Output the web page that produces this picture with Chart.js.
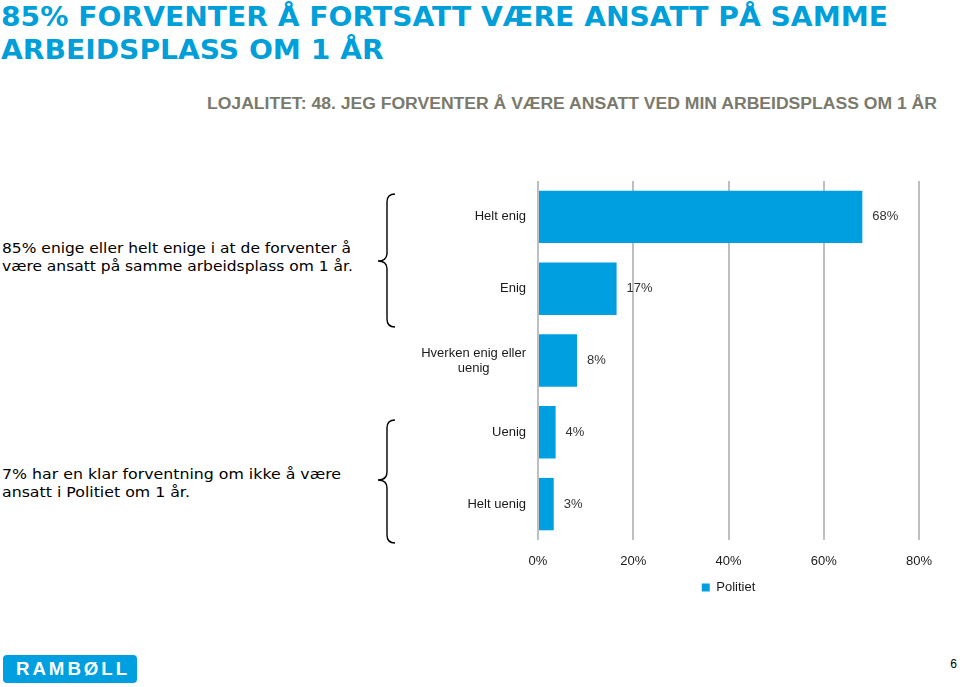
<!DOCTYPE html>
<html>
<head>
<meta charset="utf-8">
<script src="https://cdn.jsdelivr.net/npm/chart.js@4/dist/chart.umd.min.js"></script>
<style>
  html, body { margin:0; padding:0; background:#fff; }
  body { width:960px; height:687px; position:relative; overflow:hidden; }
  .t { position:absolute; white-space:nowrap; line-height:1; }
  #title { left:1px; top:0; font-family:"DejaVu Sans", Verdana, sans-serif; font-weight:bold; font-size:27px; color:#009FDA; transform-origin:0 0; }
  #title div { height:33px; line-height:33px; }
  #sub { right:23px; top:96px; font-family:"Liberation Sans Narrow","Liberation Sans", Arial, sans-serif; font-weight:bold; font-size:16px; color:#7a7a6c; transform-origin:100% 0; }
  .note { left:2px; font-family:"DejaVu Sans", Verdana, sans-serif; font-size:14.5px; color:#000; transform-origin:0 0; }
  .note div { height:18px; line-height:18px; }
  #logo { position:absolute; left:3px; top:655px; width:134px; height:28px; background:#009FDF; border-radius:4px; }
  #logoTxt { position:absolute; left:13px; top:4px; color:#fff; font-family:"Liberation Sans", Arial, sans-serif; font-weight:bold; font-size:19px; letter-spacing:3px; line-height:20px; transform-origin:0 0; }
  #page { right:3px; top:658px; font-family:"Liberation Sans", Arial, sans-serif; font-size:12px; color:#000; }
  #braces { position:absolute; left:0; top:0; }
  #chartBox { position:absolute; left:0; top:0; width:960px; height:687px; }
</style>
</head>
<body>
<div id="title" class="t" data-fit="887"><div>85% FORVENTER Å FORTSATT VÆRE ANSATT PÅ SAMME</div><div>ARBEIDSPLASS OM 1 ÅR</div></div>
<div id="sub" class="t" data-fit="730">LOJALITET: 48. JEG FORVENTER Å VÆRE ANSATT VED MIN ARBEIDSPLASS OM 1 ÅR</div>
<div class="t note" style="top:239px" data-fit="351"><div>85% enige eller helt enige i at de forventer å</div><div>være ansatt på samme arbeidsplass om 1 år.</div></div>
<div class="t note" style="top:465px" data-fit="339"><div>7% har en klar forventning om ikke å være</div><div>ansatt i Politiet om 1 år.</div></div>
<div id="logo"><div id="logoTxt" class="t" data-fit="114">RAMBØLL</div></div>
<div id="page" class="t">6</div>
<div id="chartBox"><canvas id="c" width="960" height="687"></canvas></div>
<svg id="braces" width="960" height="687">
  <path d="M395,194 Q387,194 387,202 L387,253 Q387,261 378,261 Q387,261 387,269 L387,319 Q387,327 395,327" fill="none" stroke="#000" stroke-width="1.4"/>
  <path d="M395,420 Q387,420 387,428 L387,472 Q387,480 378,480 Q387,480 387,488 L387,535 Q387,543 395,543" fill="none" stroke="#000" stroke-width="1.4"/>
</svg>
<script>
// ---- data ----
const categories = ["Helt enig", "Enig", ["Hverken enig eller", "uenig"], "Uenig", "Helt uenig"];
const seriesName = "Politiet";
const values = [68.1, 16.5, 8.2, 3.7, 3.3];
const tickValues = [0, 20, 40, 60, 80];

// fit text widths
document.querySelectorAll('[data-fit]').forEach(el => {
  const target = parseFloat(el.dataset.fit);
  let w = 0;
  if (el.children.length) { el.querySelectorAll('div').forEach(d => { d.style.display='inline-block'; w = Math.max(w, d.getBoundingClientRect().width); d.style.display='block'; }); }
  else w = el.getBoundingClientRect().width;
  if (w > 0) el.style.transform = 'scaleX(' + (target / w) + ')';
});

Chart.defaults.font.family = '"Liberation Sans", Arial, sans-serif';
Chart.defaults.font.size = 13;
Chart.defaults.color = '#1a1a1a';

const labelPlugin = {
  id: 'labels',
  afterDatasetsDraw(chart) {
    const ctx = chart.ctx;
    const meta = chart.getDatasetMeta(0);
    const yScale = chart.scales.y;
    const area = chart.chartArea;
    ctx.save();
    ctx.font = '13px "Liberation Sans", Arial, sans-serif';
    ctx.textBaseline = 'middle';
    // value labels
    ctx.fillStyle = '#333';
    ctx.textAlign = 'left';
    meta.data.forEach((bar, i) => {
      ctx.fillText(Math.round(values[i]) + '%', bar.x + 10, bar.y);
    });
    // category labels
    ctx.fillStyle = '#1a1a1a';
    const right = area.left - 12;
    categories.forEach((lab, i) => {
      const y = yScale.getPixelForValue(i);
      const lines = Array.isArray(lab) ? lab : [lab];
      let maxW = 0;
      lines.forEach(l => maxW = Math.max(maxW, ctx.measureText(l).width));
      const cx = right - maxW / 2;
      ctx.textAlign = 'center';
      const lh = 15;
      lines.forEach((l, k) => {
        ctx.fillText(l, cx, y + (k - (lines.length - 1) / 2) * lh);
      });
    });
    ctx.restore();
  }
};

new Chart(document.getElementById('c'), {
  type: 'bar',
  data: {
    labels: categories,
    datasets: [{
      label: seriesName,
      data: values,
      backgroundColor: '#009FDF',
      borderWidth: 0,
      barPercentage: 0.73,
      categoryPercentage: 1
    }]
  },
  options: {
    indexAxis: 'y',
    responsive: false,
    animation: false,
    layout: { padding: { left: 538, right: 41, top: 181, bottom: 83 } },
    scales: {
      x: {
        min: 0, max: 80,
        afterBuildTicks: s => { s.ticks = tickValues.map(v => ({ value: v })); },
        afterFit: s => { s.height = 31; },
        ticks: { callback: v => v + '%', padding: 14, color: '#1a1a1a', font: { size: 13 } },
        grid: { color: '#bfbfbf', lineWidth: 2, drawTicks: false },
        border: { display: false }
      },
      y: {
        ticks: { display: false },
        grid: { display: false },
        border: { display: false },
        afterFit: s => { s.width = 0; }
      }
    },
    plugins: {
      legend: {
        position: 'bottom',
        labels: { boxWidth: 8, boxHeight: 8, padding: 10, color: '#1a1a1a', font: { size: 13 } }
      },
      tooltip: { enabled: false }
    }
  },
  plugins: [labelPlugin]
});
</script>
</body>
</html>
